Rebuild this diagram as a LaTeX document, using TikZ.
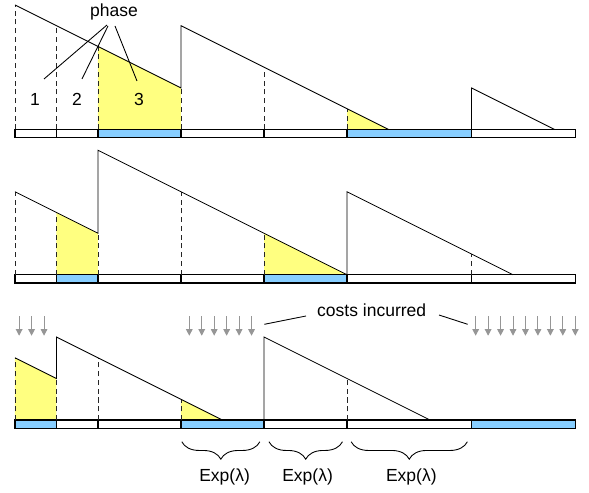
\documentclass[tikz,border=0pt]{standalone}
\usepackage{fontspec}
\setmainfont{Liberation Sans}
\usetikzlibrary{arrows.meta,decorations.pathreplacing}
\definecolor{ylw}{RGB}{255,255,128}
\definecolor{blu}{RGB}{135,206,255}
\definecolor{arrgray}{RGB}{150,150,150}
\begin{document}
\begin{tikzpicture}[x=1cm,y=1cm,
  saw/.style={line width=0.6pt,line join=miter},
  dsh/.style={line width=0.6pt,dash pattern=on 3.5pt off 2.5pt,black!85},
  barbox/.style={line width=0.9pt},
  tick/.style={line width=0.9pt},
  yfill/.style={fill=ylw},
  bfill/.style={fill=blu},
  lbl/.style={font=\fontsize{12pt}{14pt}\selectfont,inner sep=1pt},
  cost/.style={arrgray,line width=0.7pt,-{Triangle[width=4.5pt,length=4.5pt]}},
  lead/.style={line width=0.6pt},
  brc/.style={line width=0.6pt,decorate,decoration={brace,mirror,amplitude=0.42cm}}
]
\useasboundingbox (-0.361,-1.735) rectangle (13.831,10.12);

% ---------- Row 1 ----------
\begin{scope}[yshift=7cm]
  \fill[yfill] (2,0) -- (2,2) -- (4,1) -- (4,0) -- cycle;
  \fill[yfill] (8,0) -- (8,0.5) -- (9,0) -- cycle;
  \fill[bfill] (2,-0.2) rectangle (4,0);
  \fill[bfill] (8,-0.2) rectangle (11,0);
  \draw[barbox] (0,-0.2) rectangle (13.5,0);
  \foreach \t in {1,2,4,6,8,11} \draw[tick] (\t,-0.2) -- (\t,0);
  \draw[dsh] (0,0) -- (0,3);
  \draw[dsh] (1,0) -- (1,2.5);
  \draw[dsh] (2,0) -- (2,2);
  \draw[dsh] (4,0) -- (4,1);
  \draw[dsh] (6,0) -- (6,1.5);
  \draw[dsh] (8,0) -- (8,0.5);
  \draw[saw] (0,3) -- (4,1) -- (4,2.5) -- (9,0);
  \draw[saw] (11,0) -- (11,1) -- (13,0);
\end{scope}

% phase labels
\node[lbl] (phase) at (2.386,9.83) {phase};
\node[lbl] (p1) at (0.482,7.735) {1};
\node[lbl] (p2) at (1.494,7.735) {2};
\node[lbl] (p3) at (2.988,7.735) {3};
\coordinate (a1) at (2.217,9.518);
\coordinate (a2) at (2.241,9.494);
\coordinate (a3) at (2.41,9.494);
\coordinate (b1) at (0.699,8.217);
\coordinate (b2) at (1.614,8.217);
\coordinate (b3) at (2.94,8.169);
\draw[lead] (a1) -- (b1);
\draw[lead] (a2) -- (b2);
\draw[lead] (a3) -- (b3);

% ---------- Row 2 ----------
\begin{scope}[yshift=3.5cm]
  \fill[yfill] (1,0) -- (1,1.5) -- (2,1) -- (2,0) -- cycle;
  \fill[yfill] (6,0) -- (6,1) -- (8,0) -- cycle;
  \fill[bfill] (1,-0.2) rectangle (2,0);
  \fill[bfill] (6,-0.2) rectangle (8,0);
  \draw[barbox] (0,-0.2) rectangle (13.5,0);
  \foreach \t in {1,2,4,6,8,11} \draw[tick] (\t,-0.2) -- (\t,0);
  \draw[dsh] (0,0) -- (0,2);
  \draw[dsh] (1,0) -- (1,1.5);
  \draw[dsh] (2,0) -- (2,1);
  \draw[dsh] (4,0) -- (4,2);
  \draw[dsh] (6,0) -- (6,1);
  \draw[dsh] (11,0) -- (11,0.5);
  \draw[saw] (0,2) -- (2,1) -- (2,3) -- (8,0) -- (8,2) -- (12,0);
\end{scope}

% ---------- Row 3 ----------
\begin{scope}
  \fill[yfill] (0,0) -- (0,1.5) -- (1,1) -- (1,0) -- cycle;
  \fill[yfill] (4,0) -- (4,0.5) -- (5,0) -- cycle;
  \fill[bfill] (0,-0.2) rectangle (1,0);
  \fill[bfill] (4,-0.2) rectangle (6,0);
  \fill[bfill] (11,-0.2) rectangle (13.5,0);
  \draw[barbox] (0,-0.2) rectangle (13.5,0);
  \foreach \t in {1,2,4,6,8,11} \draw[tick] (\t,-0.2) -- (\t,0);
  \draw[dsh] (0,0) -- (0,1.5);
  \draw[dsh] (1,0) -- (1,1);
  \draw[dsh] (2,0) -- (2,1.5);
  \draw[dsh] (4,0) -- (4,0.5);
  \draw[dsh] (8,0) -- (8,1);
  \draw[saw] (0,1.5) -- (1,1) -- (1,2) -- (5,0);
  \draw[saw] (6,0) -- (6,2) -- (10,0);
\end{scope}

% cost arrows
\foreach \x in {0.1,0.4,0.7} \draw[cost] (\x,2.506) -- (\x,2.03);
\foreach \x in {4.2,4.5,4.8,5.1,5.4,5.7} \draw[cost] (\x,2.506) -- (\x,2.03);
\foreach \x in {11.1,11.4,11.7,12.0,12.3,12.6,12.9,13.2,13.5} \draw[cost] (\x,2.506) -- (\x,2.03);

\node[lbl] (costs) at (8.595,2.634) {costs incurred};
\coordinate (c1) at (6.007,2.306);
\coordinate (c2) at (7.012,2.506);
\coordinate (c3) at (10.217,2.53);
\coordinate (c4) at (10.908,2.306);
\draw[lead] (c1) -- (c2);
\draw[lead] (c3) -- (c4);

% braces
\coordinate (br1a) at (4.02,-0.524);
\coordinate (br1b) at (5.9,-0.524);
\coordinate (br2a) at (6.12,-0.524);
\coordinate (br2b) at (7.89,-0.524);
\coordinate (br3a) at (8.1,-0.524);
\coordinate (br3b) at (10.9,-0.524);
\draw[brc] (br1a) -- (br1b);
\draw[brc] (br2a) -- (br2b);
\draw[brc] (br3a) -- (br3b);
\node[lbl] (e1) at (5.05,-1.366) {Exp(λ)};
\node[lbl] (e2) at (7.05,-1.366) {Exp(λ)};
\node[lbl] (e3) at (9.55,-1.366) {Exp(λ)};
\end{tikzpicture}
\end{document}
